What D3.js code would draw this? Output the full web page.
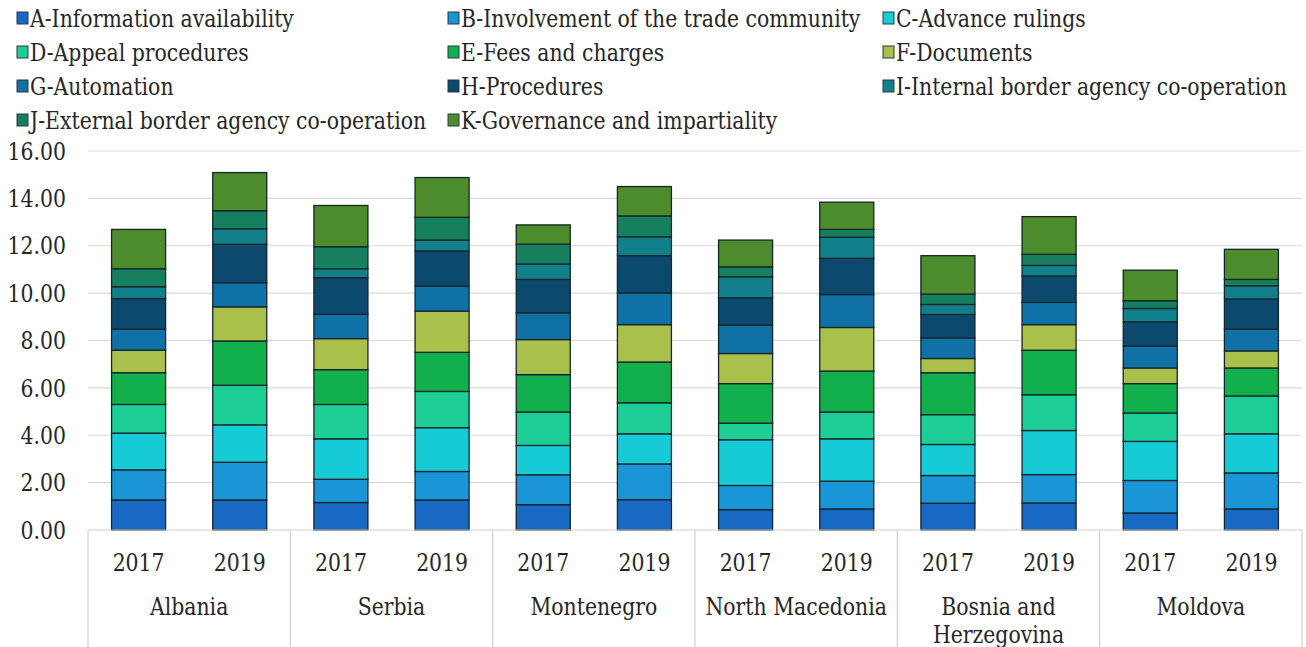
<!DOCTYPE html>
<html><head><meta charset="utf-8">
<script src="https://cdn.jsdelivr.net/npm/d3@7"></script>
<style>html,body{margin:0;padding:0;background:#fff;}svg{display:block;}
svg text{font-family:"DejaVu Serif",serif;}</style>
</head><body><svg id="c" width="1306" height="647"></svg>
<script>
const countries = ["Albania","Serbia","Montenegro","North Macedonia","Bosnia and Herzegovina","Moldova"];
const years = ["2017","2019"];
const seriesNames = ["A-Information availability","B-Involvement of the trade community","C-Advance rulings","D-Appeal procedures","E-Fees and charges","F-Documents","G-Automation","H-Procedures","I-Internal border agency co-operation","J-External border agency co-operation","K-Governance and impartiality"];
const seriesColors = ["#1769c4","#1a95d6","#17cbd6","#1dcf96","#12b04c","#a9c04b","#0f71a6","#0b4a6e","#12808a","#16805e","#4d8c2c"];
// values per bar (order: Albania 2017, Albania 2019, Serbia 2017, ...)
const A = [1.27,1.27,1.16,1.27,1.07,1.28,0.86,0.89,1.13,1.14,0.72,0.89];
const B = [1.27,1.59,0.98,1.20,1.26,1.51,1.02,1.17,1.17,1.20,1.37,1.52];
const C = [1.55,1.58,1.71,1.85,1.24,1.27,1.93,1.79,1.31,1.86,1.65,1.65];
const D = [1.21,1.67,1.45,1.53,1.41,1.31,0.70,1.13,1.26,1.51,1.20,1.60];
const E = [1.34,1.87,1.47,1.65,1.58,1.72,1.67,1.73,1.77,1.88,1.24,1.18];
const F = [0.95,1.44,1.31,1.74,1.48,1.58,1.27,1.84,0.60,1.08,0.66,0.72];
const G = [0.89,1.02,1.03,1.06,1.13,1.34,1.20,1.39,0.87,0.94,0.93,0.92];
const H = [1.29,1.62,1.54,1.48,1.41,1.57,1.15,1.53,0.99,1.11,1.02,1.27];
const I = [0.50,0.66,0.38,0.46,0.65,0.80,0.89,0.89,0.42,0.45,0.56,0.56];
const J = [0.76,0.76,0.93,0.96,0.84,0.88,0.42,0.33,0.44,0.47,0.33,0.27];
const K = [1.66,1.61,1.74,1.68,0.81,1.24,1.13,1.15,1.62,1.59,1.29,1.27];
const yTicks = [0,2,4,6,8,10,12,14,16];

const seriesVals = [A,B,C,D,E,F,G,H,I,J,K];
const bars = [];
countries.forEach((c,ci)=>years.forEach((y,yi)=>{
  const idx = ci*2+yi;
  const row = {key:c+"|"+y, country:c, year:y};
  seriesNames.forEach((s,si)=>row[s]=seriesVals[si][idx]);
  bars.push(row);
}));

const svg = d3.select("#c");
const FS = 24;
const TXT = "#262626";
const left = 88, right = 1302, y0 = 530, y1 = 151;
const x = d3.scaleBand().domain(bars.map(d=>d.key)).range([left,right]).paddingInner(0.466).paddingOuter(0.233);
const xg = d3.scaleBand().domain(countries).range([left,right]);
const y = d3.scaleLinear().domain([0,16]).range([y0,y1]);

// horizontal condensing so the wide serif matches the Times-like widths of the original
const probe = svg.append("text").attr("font-size",FS).text("A-Information availability");
const SX = 264 / probe.node().getComputedTextLength();
probe.remove();

function label(parent, px, py, str, anchor, dy){
  const g = parent.append("g").attr("transform",`translate(${px},${py}) scale(${SX},1)`);
  g.append("text").attr("x",0).attr("y",0).attr("dy",dy||0).attr("text-anchor",anchor||"start")
   .attr("font-size",FS).attr("fill",TXT).text(str);
  return g;
}

// gridlines
svg.append("g").selectAll("line").data(yTicks.filter(t=>t>0)).join("line")
  .attr("x1",left).attr("x2",right).attr("y1",d=>y(d)).attr("y2",d=>y(d))
  .attr("stroke","#d9d9d9").attr("stroke-width",1.2);
// y labels
const yl = svg.append("g");
yTicks.forEach(t=>label(yl, 66, y(t), t.toFixed(2), "end", "0.36em"));

// stacked bars
const stack = d3.stack().keys(seriesNames)(bars);
svg.append("g").selectAll("g").data(stack).join("g")
  .attr("fill",(d,i)=>seriesColors[i])
  .selectAll("rect").data(d=>d).join("rect")
  .attr("x",d=>x(d.data.key)).attr("width",x.bandwidth())
  .attr("y",d=>y(d[1])).attr("height",d=>y(d[0])-y(d[1]))
  .attr("stroke","#15252b").attr("stroke-width",1.3);

// x axis line
svg.append("line").attr("x1",left).attr("x2",right).attr("y1",y0).attr("y2",y0)
  .attr("stroke","#d0d0d0").attr("stroke-width",1.2);
// group separators
const seps = countries.map(c=>xg(c)).concat([right]);
svg.append("g").selectAll("line").data(seps).join("line")
  .attr("x1",d=>d).attr("x2",d=>d).attr("y1",y0).attr("y2",647)
  .attr("stroke","#d0d0d0").attr("stroke-width",1.2);
// year labels
const yrg = svg.append("g");
bars.forEach(d=>label(yrg, x(d.key)+x.bandwidth()/2, 571, d.year, "middle"));
// country labels
const cg = svg.append("g");
countries.forEach(c=>{
  const cx = xg(c)+xg.bandwidth()/2;
  if (c==="Bosnia and Herzegovina"){
    label(cg, cx, 615, "Bosnia and", "middle");
    label(cg, cx, 643, "Herzegovina", "middle");
  } else label(cg, cx, 615, c, "middle");
});

// legend
const colX = [17,448,883], rowY = [18,52,86,120];
const lg = svg.append("g");
seriesNames.forEach((s,i)=>{
  const lx = colX[i%3], ly = rowY[Math.floor(i/3)];
  lg.append("rect").attr("x",lx).attr("y",ly-6).attr("width",11).attr("height",12)
    .attr("fill",seriesColors[i]).attr("stroke","#2a3a40").attr("stroke-width",1);
  label(lg, lx+13, ly, s, "start", "0.36em");
});
</script></body></html>
